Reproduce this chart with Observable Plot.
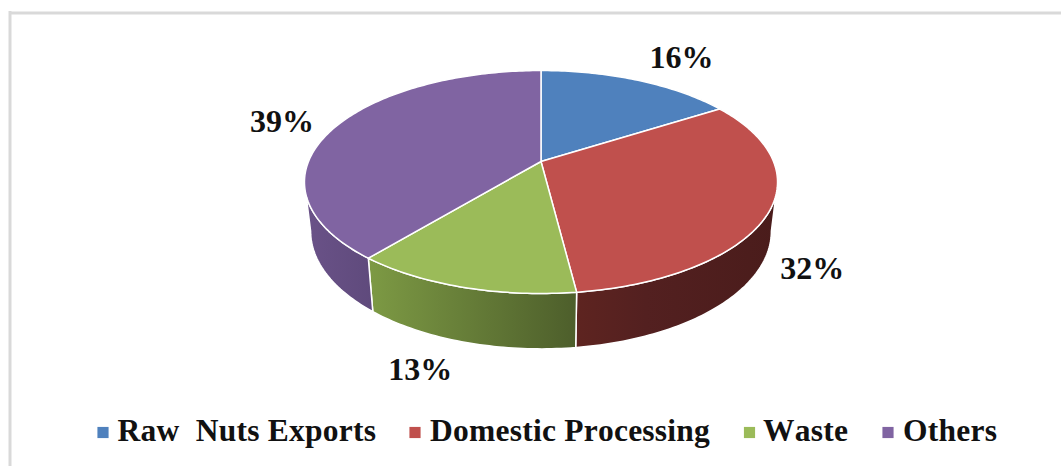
<!DOCTYPE html>
<html>
<head>
<meta charset="utf-8">
<script src="https://cdn.jsdelivr.net/npm/d3@7"></script>
<script src="https://cdn.jsdelivr.net/npm/@observablehq/plot@0.6"></script>
<style>
html,body{margin:0;padding:0;background:#fff;overflow:hidden}
svg{display:block}
</style>
</head>
<body>
<div id="chart"></div>
<script>
const categories = ["Raw  Nuts Exports", "Domestic Processing", "Waste", "Others"];
const shares = [16, 32, 13, 39];
const colors = ["#4f81bd", "#c0504d", "#9bbb59", "#8064a2"];
const wallStops = [
  [["0%", "#385d8a"], ["100%", "#2c4a70"]],
  [["0%", "#5e2420"], ["35%", "#532020"], ["100%", "#4a1c1b"]],
  [["0%", "#7d9a44"], ["100%", "#4d5e2b"]],
  [["0%", "#6a5288"], ["100%", "#5f4a7c"]]
];
const labelOffset = [[44, -12], [43, 68], [-42, 93], [-53, 5]];
const legendSwatchX = [102.5, 414.5, 749, 887.5];
const legendTextX = [117, 429.5, 762.5, 902.5];

// perspective view of a flat disc
const view = {cx: 540.5, cy: 161, a: 232.5, b: 107.7, p: 0.184, shrink: 0.974, drop: 48};
function project(deg, z = 0) {
  const t = deg * Math.PI / 180, X = Math.sin(t), Y = Math.cos(t), d = 1 + view.p * Y;
  const s = z ? view.shrink : 1;
  return {x: view.cx + s * view.a * X / d, y: view.cy - s * view.b * Y / d + (z ? view.drop / d : 0)};
}
// angles at which the side wall leaves the disc's outline
const edgeRight = Math.acos(-view.p) * 180 / Math.PI;
const edgeLeft = 360 - edgeRight;

let acc = 0;
const slices = shares.map((v, i) => {
  const start = acc * 3.6, end = (acc + v) * 3.6;
  acc += v;
  return {i, v, start, end, mid: (start + end) / 2};
});
const arc = (a, b) => d3.range(a, b, 1).concat(b);
const topFace = (s) => [{x: view.cx, y: view.cy}, ...arc(s.start, s.end).map((a) => project(a))];
const wallFace = (s) => {
  const a = Math.max(s.start, edgeRight), b = Math.min(s.end, edgeLeft);
  if (a >= b) return [];
  const r = arc(a, b);
  return [...r.map((t) => project(t)), ...r.slice().reverse().map((t) => project(t, 1))];
};

const defs = () => {
  const d = d3.create("svg:defs");
  wallStops.forEach((stops, i) => {
    const g = d.append("linearGradient").attr("id", `wall${i}`).attr("x1", "0").attr("x2", "1").attr("y1", "0").attr("y2", "0");
    stops.forEach(([o, c]) => g.append("stop").attr("offset", o).attr("stop-color", c));
  });
  return d.node();
};

const faceOpts = {x: "x", y: "y", curve: "linear-closed", stroke: "white", strokeWidth: 1.5};
const serif = "'Liberation Serif', 'Times New Roman', serif";

const plot = Plot.plot({
  width: 1061, height: 466,
  margin: 0,
  x: {domain: [0, 1061], range: [0, 1061], axis: null},
  y: {domain: [0, 466], range: [0, 466], axis: null},
  style: {background: "white"},
  marks: [
    defs,
    Plot.ruleY([12.5], {x1: 9.5, x2: 1061, stroke: "#d9d9d9", strokeWidth: 3}),
    Plot.ruleX([9.5], {y1: 11, y2: 466, stroke: "#d9d9d9", strokeWidth: 3}),
    ...slices.map((s) => Plot.line(wallFace(s), {...faceOpts, fill: `url(#wall${s.i})`})),
    ...slices.map((s) => Plot.line(topFace(s), {...faceOpts, fill: colors[s.i]})),
    Plot.text(slices, {
      x: (s) => project(s.mid).x + labelOffset[s.i][0],
      y: (s) => project(s.mid).y + labelOffset[s.i][1],
      text: (s) => `${s.v}%`,
      fontFamily: serif, fontWeight: "bold", fontSize: 32, fill: "#111", textAnchor: "middle", lineAnchor: "bottom"
    }),
    Plot.dot(categories, {
      x: (d, i) => legendSwatchX[i], y: 432, symbol: "square", r: 6.3,
      fill: (d, i) => colors[i], stroke: null
    }),
    Plot.text(categories, {
      x: (d, i) => legendTextX[i], y: 440.5, text: (d) => d,
      fontFamily: serif, fontWeight: "bold", fontSize: 31.5, fill: "#111",
      textAnchor: "start", lineAnchor: "bottom"
    })
  ]
});
plot.querySelectorAll("text").forEach((t) => {
  if (categories.includes(t.textContent)) { t.style.letterSpacing = "0.24px"; t.style.fontKerning = "none"; }
});
document.getElementById("chart").append(plot);
</script>
</body>
</html>
